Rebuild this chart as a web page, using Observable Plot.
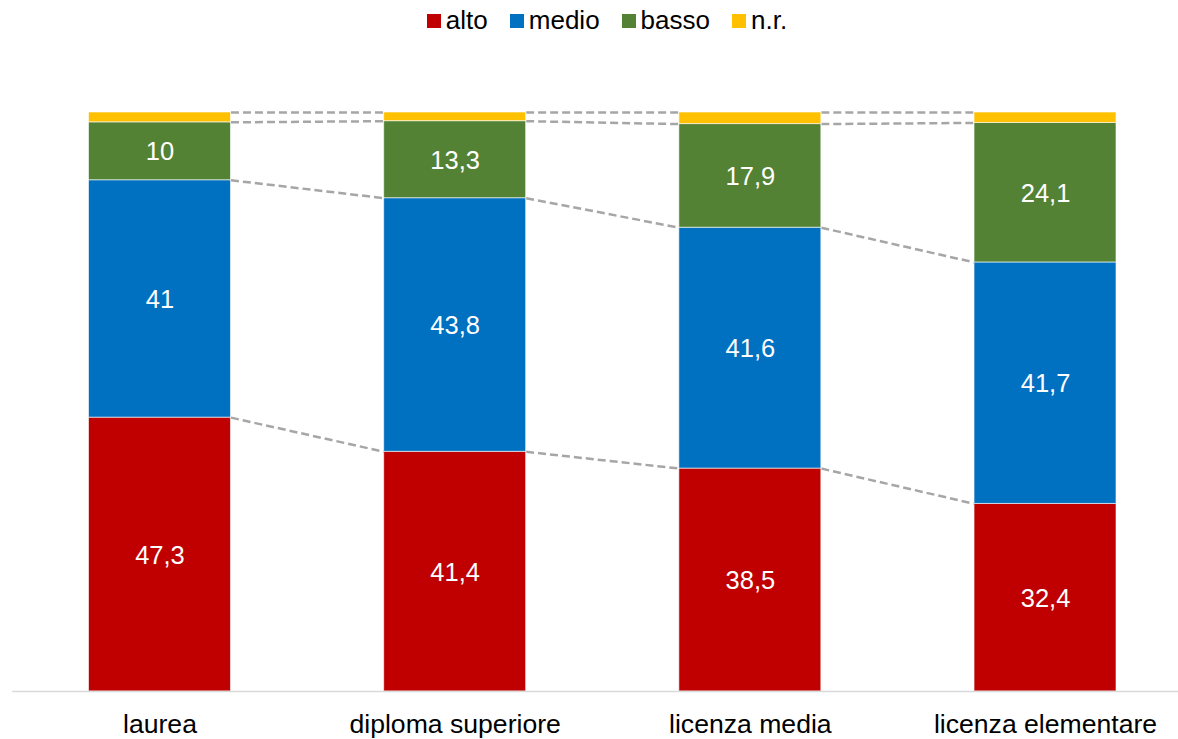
<!DOCTYPE html>
<html>
<head>
<meta charset="utf-8">
<script src="https://cdn.jsdelivr.net/npm/d3@7"></script>
<script src="https://cdn.jsdelivr.net/npm/@observablehq/plot@0.6"></script>
<style>
  html, body { margin: 0; padding: 0; background: #fff; }
  body { width: 1178px; height: 739px; overflow: hidden; font-family: "Liberation Sans", Arial, sans-serif; }
  #legend { height: 40px; display: flex; justify-content: center; align-items: center; padding-left: 36px; box-sizing: border-box; font-size: 26px; color: #000; }
  .item { display: flex; align-items: center; margin: 0 11px; }
  .sw { width: 14px; height: 14px; margin-right: 5px; margin-top: 1px; }
</style>
</head>
<body>
<div id="legend"></div>
<div id="chart"></div>
<script>
const categories = ["laurea", "diploma superiore", "licenza media", "licenza elementare"];
const seriesNames = ["alto", "medio", "basso", "n.r."];
const alto  = [47.3, 41.4, 38.5, 32.4];
const medio = [41, 43.8, 41.6, 41.7];
const basso = [10, 13.3, 17.9, 24.1];
const nr    = [1.7, 1.5, 2.0, 1.8];
const seriesColors = ["#C00000", "#0070C0", "#548235", "#FFC000"];
const labelled = [true, true, true, false];

const seriesValues = [alto, medio, basso, nr];
const halfWidth = 0.2405;

// stacked rows
const rows = [];
categories.forEach((c, i) => {
  let base = 0;
  seriesValues.forEach((vals, k) => {
    const v = vals[i];
    rows.push({i, cat: c, series: seriesNames[k], value: v, y1: base, y2: base + v, labelled: labelled[k]});
    base += v;
  });
});

// connectors at each cumulative boundary
const links = [];
seriesNames.forEach((s, k) => {
  for (let i = 0; i < categories.length - 1; i++) {
    const a = rows.find(r => r.i === i && r.series === s);
    const b = rows.find(r => r.i === i + 1 && r.series === s);
    links.push({x1: i + halfWidth, y1: a.y2, x2: i + 1 - halfWidth, y2: b.y2});
  }
});

// legend
const legend = document.getElementById("legend");
seriesNames.forEach((s, k) => {
  const it = document.createElement("div");
  it.className = "item";
  const sw = document.createElement("div");
  sw.className = "sw";
  sw.style.background = seriesColors[k];
  const t = document.createElement("span");
  t.textContent = s;
  it.appendChild(sw); it.appendChild(t);
  legend.appendChild(it);
});

const fmt = v => String(v).replace(".", ",");

const chart = Plot.plot({
  width: 1178,
  height: 699,
  marginTop: 72,
  marginBottom: 48,
  marginLeft: 12,
  marginRight: 0,
  style: {fontFamily: "'Liberation Sans', Arial, sans-serif", background: "#fff"},
  x: {type: "linear", domain: [-0.5, 3.5], range: [11.9, 1192.6]},
  y: {domain: [0, 100], axis: null},
  color: {domain: seriesNames, range: seriesColors},
  marks: [
    Plot.link(links, {x1: "x1", y1: "y1", x2: "x2", y2: "y2", stroke: "#A6A6A6", strokeWidth: 2.5, strokeDasharray: "8,4"}),
    Plot.rect(rows, {x1: d => d.i - halfWidth, x2: d => d.i + halfWidth, y1: "y1", y2: "y2", fill: "series", stroke: "white", strokeWidth: 1, strokeOpacity: 0.6}),
    Plot.text(rows.filter(d => d.labelled), {x: "i", y: d => (d.y1 + d.y2) / 2, text: d => fmt(d.value), fill: "white", fontSize: 25.5, dy: 1}),
    Plot.ruleY([0], {stroke: "#D9D9D9", strokeWidth: 1.5}),
    Plot.axisX(d3.range(categories.length), {tickSize: 0, tickPadding: 23, tickFormat: i => categories[i], fontSize: 26.6, fill: "#000", label: null})
  ]
});
document.getElementById("chart").appendChild(chart);
</script>
</body>
</html>
